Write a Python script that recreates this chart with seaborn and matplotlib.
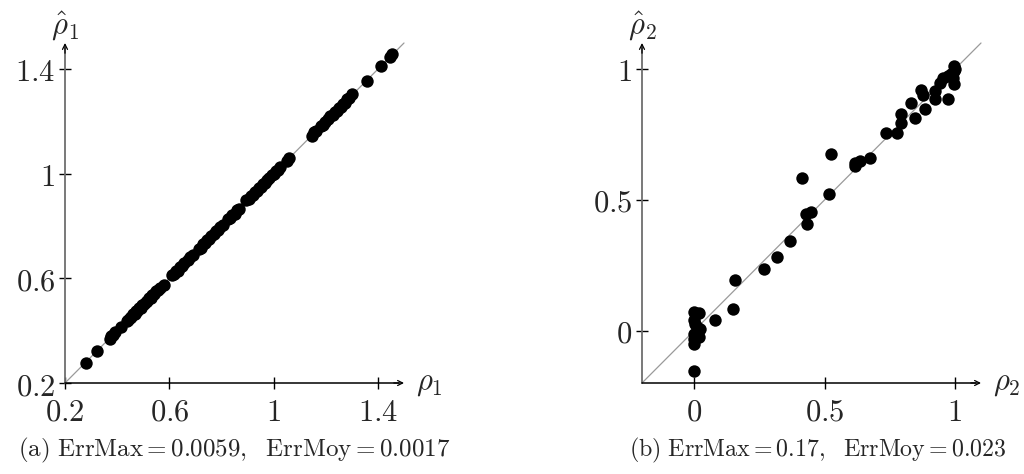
import matplotlib
matplotlib.use("Agg")
import matplotlib.pyplot as plt
import seaborn as sns
import pandas as pd

# --- data -------------------------------------------------------------
rho1 = [0.280, 0.321, 0.372, 0.378, 0.385, 0.392, 0.415, 0.436, 0.442, 0.448,
        0.455, 0.461, 0.467, 0.472, 0.478, 0.484, 0.490, 0.496, 0.503, 0.509,
        0.515, 0.522, 0.528, 0.535, 0.542, 0.549, 0.556, 0.563, 0.578, 0.612,
        0.618, 0.625, 0.632, 0.640, 0.648, 0.656, 0.672, 0.681, 0.690, 0.712,
        0.720, 0.728, 0.737, 0.745, 0.753, 0.761, 0.770, 0.778, 0.786, 0.795,
        0.805, 0.826, 0.834, 0.842, 0.850, 0.858, 0.866, 0.896, 0.904, 0.912,
        0.920, 0.928, 0.936, 0.944, 0.952, 0.960, 0.968, 0.976, 0.984, 0.992,
        1.000, 1.008, 1.016, 1.024, 1.052, 1.058, 1.148, 1.156, 1.164, 1.180,
        1.188, 1.196, 1.210, 1.218, 1.226, 1.234, 1.242, 1.250, 1.258, 1.266,
        1.274, 1.282, 1.290, 1.302, 1.357, 1.411, 1.448, 1.455]
rho1_hat = [0.278, 0.323, 0.370, 0.380, 0.383, 0.394, 0.413, 0.438, 0.440, 0.450,
            0.453, 0.463, 0.465, 0.474, 0.476, 0.486, 0.488, 0.498, 0.501, 0.511,
            0.513, 0.524, 0.526, 0.537, 0.540, 0.551, 0.554, 0.565, 0.576, 0.614,
            0.616, 0.627, 0.630, 0.642, 0.646, 0.658, 0.670, 0.683, 0.688, 0.714,
            0.718, 0.730, 0.735, 0.747, 0.751, 0.763, 0.768, 0.780, 0.784, 0.797,
            0.803, 0.828, 0.832, 0.844, 0.848, 0.860, 0.864, 0.898, 0.902, 0.914,
            0.918, 0.930, 0.934, 0.946, 0.950, 0.962, 0.966, 0.978, 0.982, 0.994,
            0.998, 1.010, 1.014, 1.026, 1.050, 1.060, 1.146, 1.158, 1.162, 1.182,
            1.186, 1.198, 1.208, 1.220, 1.224, 1.236, 1.240, 1.252, 1.256, 1.268,
            1.272, 1.284, 1.288, 1.304, 1.355, 1.413, 1.446, 1.457]

rho2 = [0.000, 0.000, 0.020, 0.000, 0.010, 0.000, 0.020, 0.000, 0.000, 0.005,
        0.022, 0.079, 0.148, 0.158, 0.269, 0.317, 0.366, 0.433, 0.427, 0.449,
        0.415, 0.516, 0.526, 0.615, 0.617, 0.636, 0.674, 0.736, 0.776, 0.795,
        0.795, 0.846, 0.833, 0.884, 0.871, 0.877, 0.922, 0.924, 0.941, 0.953,
        0.972, 0.975, 0.995, 0.998, 0.998, 0.991, 0.985, 1.000]
rho2_hat = [-0.153, 0.070, 0.066, 0.040, 0.013, -0.013, -0.025, -0.030, -0.050, 0.025,
            0.005, 0.042, 0.083, 0.195, 0.235, 0.282, 0.342, 0.407, 0.448, 0.455,
            0.585, 0.524, 0.677, 0.630, 0.642, 0.649, 0.661, 0.754, 0.754, 0.795,
            0.827, 0.814, 0.871, 0.846, 0.922, 0.903, 0.884, 0.916, 0.948, 0.967,
            0.973, 0.884, 1.011, 0.992, 0.942, 0.967, 0.980, 1.000]

ticks1 = [0.2, 0.6, 1.0, 1.4]
ticklabels1 = ["0.2", "0.6", "1", "1.4"]
ticks2 = [0.0, 0.5, 1.0]
ticklabels2 = ["0", "0.5", "1"]
lim1 = (0.2, 1.5)
lim2 = (-0.2, 1.1)

captions = [r"$\mathrm{(a)\ ErrMax} = 0.0059,\ \ \mathrm{ErrMoy} = 0.0017$",
            r"$\mathrm{(b)\ ErrMax} = 0.17,\ \ \mathrm{ErrMoy} = 0.023$"]

# --- style ------------------------------------------------------------
sns.set_style("white")
plt.rcParams["mathtext.fontset"] = "cm"
plt.rcParams["font.family"] = ["DejaVu Serif"]

FS = 22
fig = plt.figure(figsize=(10.24, 4.74), dpi=100)
ax1 = fig.add_axes([65 / 1024, 1 - 383 / 474, 339 / 1024, 340 / 474])
ax2 = fig.add_axes([642 / 1024, 1 - 383 / 474, 339 / 1024, 340 / 474])


def draw_panel(ax, x, y, lim, ticks, labels, idx):
    df = pd.DataFrame({"x": x, "y": y})
    ax.plot(lim, lim, color="#9a9a9a", lw=0.9, zorder=1, clip_on=False)
    sns.scatterplot(data=df, x="x", y="y", ax=ax, color="black", s=80,
                    linewidth=0, zorder=3, clip_on=False)
    ax.set_xlim(lim)
    ax.set_ylim(lim)
    ax.set_xlabel("")
    ax.set_ylabel("")
    for s in ax.spines.values():
        s.set_visible(False)

    # axis lines with arrow heads
    ax.plot([0, 0], [0, 0.985], transform=ax.transAxes, color="#6e6e6e",
            lw=1.3, clip_on=False, zorder=2)
    ax.plot([0, 0.985], [0, 0], transform=ax.transAxes, color="black",
            lw=1.1, clip_on=False, zorder=2)
    ax.annotate("", xy=(0, 1.0), xytext=(0, 0.97), xycoords="axes fraction",
                arrowprops=dict(arrowstyle="->", color="black", lw=0.9,
                                mutation_scale=9, shrinkA=0, shrinkB=0))
    ax.annotate("", xy=(1.0, 0), xytext=(0.97, 0), xycoords="axes fraction",
                arrowprops=dict(arrowstyle="->", color="black", lw=0.9,
                                mutation_scale=9, shrinkA=0, shrinkB=0))

    ax.set_xticks(ticks, ["$%s$" % t for t in labels])
    ax.set_yticks(ticks, ["$%s$" % t for t in labels])
    ax.tick_params(axis="both", which="major", direction="inout", length=8,
                   width=1.0, color="black", labelsize=FS, pad=3,
                   bottom=True, left=True)
    ax.tick_params(axis="x", pad=6)

    ax.text(1.035, 0.0, r"$\rho_%d$" % idx, transform=ax.transAxes,
            fontsize=FS, ha="left", va="center")
    ax.text(0.0, 1.05, r"$\hat{\rho}_%d$" % idx, transform=ax.transAxes,
            fontsize=FS, ha="center", va="center")


draw_panel(ax1, rho1, rho1_hat, lim1, ticks1, ticklabels1, 1)
draw_panel(ax2, rho2, rho2_hat, lim2, ticks2, ticklabels2, 2)

fig.text(234 / 1024, 1 - 450 / 474, captions[0], fontsize=18,
         ha="center", va="center")
fig.text(818 / 1024, 1 - 450 / 474, captions[1], fontsize=17.2,
         ha="center", va="center")

fig.savefig("out.png", dpi=100)
